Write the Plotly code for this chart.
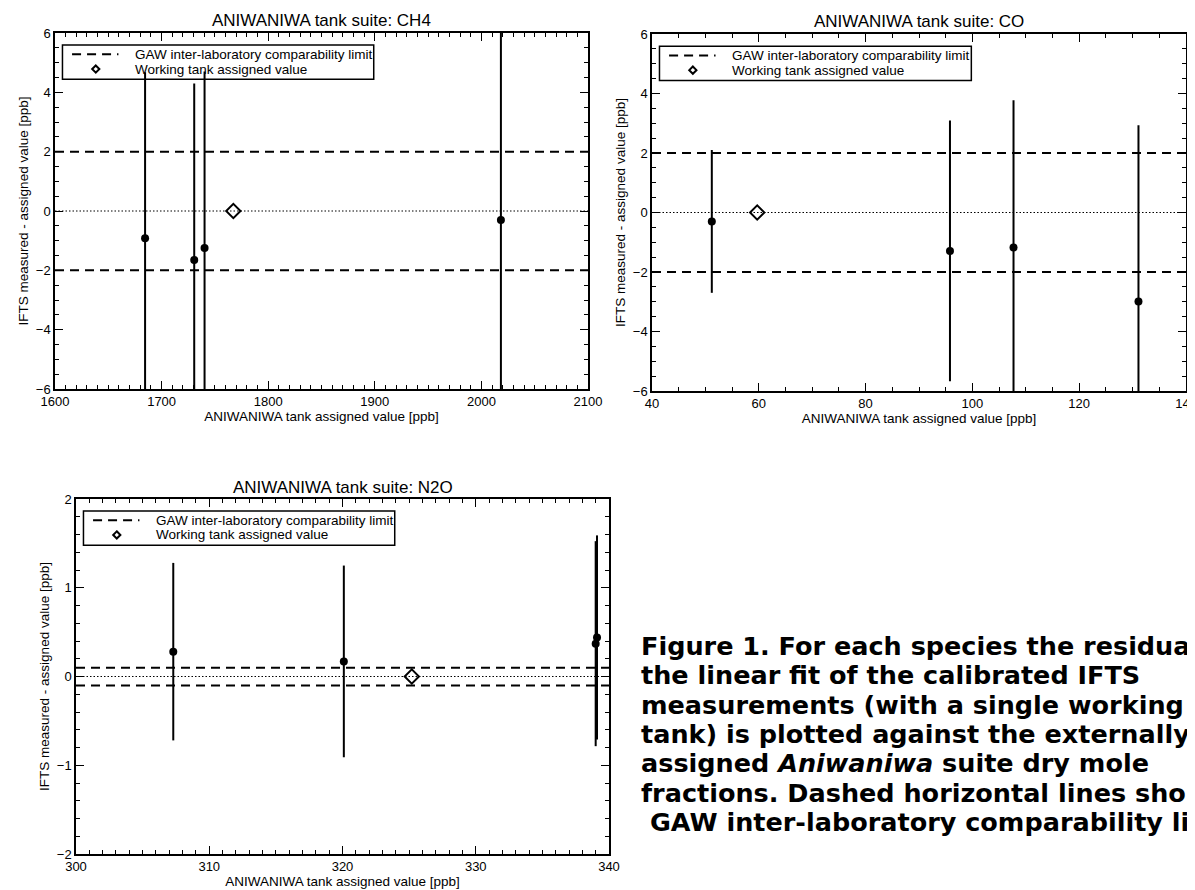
import plotly.graph_objects as go

W, H = 1195, 890

# ---------------- data ----------------
ch4_x = [1684.5, 1730.6, 1740.3, 2018.3]
ch4_y = [-0.92, -1.65, -1.25, -0.30]
ch4_err = [5.6, 5.95, 5.95, 7.0]
ch4_work = [1767.3]
ch4_limit = 2.0
ch4_xrange = [1600, 2100]
ch4_yrange = [-6, 6]

co_x = [51.2, 95.8, 107.7, 131.1]
co_y = [-0.30, -1.29, -1.18, -2.99]
co_err = [2.40, 4.38, 4.95, 5.92]
co_work = [59.7]
co_limit = 2.0
co_xrange = [40, 140]
co_yrange = [-6, 6]

n2o_x = [307.3, 320.1, 339.0, 339.1]
n2o_y = [0.28, 0.17, 0.37, 0.44]
n2o_err = [1.0, 1.08, 1.155, 1.15]
n2o_work = [325.2]
n2o_limit = 0.1
n2o_xrange = [300, 340]
n2o_yrange = [-2, 2]

titles = ["ANIWANIWA tank suite: CH4", "ANIWANIWA tank suite: CO", "ANIWANIWA tank suite: N2O"]
x_title = "ANIWANIWA tank assigned value [ppb]"
y_title = "IFTS measured - assigned value [ppb]"
legend_names = ["GAW inter-laboratory comparability limit", "Working tank assigned value"]

# caption as visible in the reference (it is clipped by the page edge there)
caption_lines = [
    "Figure 1. For each species the residua",
    "the linear fit of the calibrated IFTS",
    "measurements (with a single working",
    "tank) is plotted against the externally",
    "assigned <i>Aniwaniwa</i> suite dry mole",
    "fractions. Dashed horizontal lines sho",
    " GAW inter-laboratory comparability li",
]

# ---------------- layout geometry (pixels) ----------------
panels = [
    dict(x=ch4_x, y=ch4_y, err=ch4_err, work=ch4_work, lim=ch4_limit, xr=ch4_xrange, yr=ch4_yrange,
         px=(47, 580), py=(25, 381), xd=100, xm=10, yd=2, ym=0.5),
    dict(x=co_x, y=co_y, err=co_err, work=co_work, lim=co_limit, xr=co_xrange, yr=co_yrange,
         px=(644, 1178), py=(26, 383), xd=20, xm=5, yd=2, ym=0.5),
    dict(x=n2o_x, y=n2o_y, err=n2o_err, work=n2o_work, lim=n2o_limit, xr=n2o_xrange, yr=n2o_yrange,
         px=(68, 601), py=(491, 846), xd=10, xm=1, yd=1, ym=0.2),
]

FONT = "Liberation Sans"
DASH = "9px,6px"
fig = go.Figure()
layout = dict(
    width=W, height=H, margin=dict(l=0, r=0, t=0, b=0, pad=0),
    paper_bgcolor="white", plot_bgcolor="white",
    font=dict(family=FONT, size=13, color="black"),
    showlegend=False, shapes=[], annotations=[],
)


def px2paper(xp, yp):
    return xp / W, 1 - yp / H


for i, p in enumerate(panels):
    n = "" if i == 0 else str(i + 1)
    xa, ya = "x" + n, "y" + n
    x0p, x1p = p["px"][0] / W, p["px"][1] / W
    y0p, y1p = 1 - p["py"][1] / H, 1 - p["py"][0] / H

    # comparability limit lines
    fig.add_trace(go.Scatter(
        x=[p["xr"][0], p["xr"][1], None, p["xr"][0], p["xr"][1]],
        y=[p["lim"], p["lim"], None, -p["lim"], -p["lim"]],
        mode="lines", line=dict(color="black", width=2, dash=DASH),
        name=legend_names[0], xaxis=xa, yaxis=ya, hoverinfo="skip"))
    # working tank
    fig.add_trace(go.Scatter(
        x=p["work"], y=[0] * len(p["work"]), mode="markers",
        marker=dict(symbol="diamond-open", size=11, color="black", line=dict(width=2, color="black")),
        name=legend_names[1], xaxis=xa, yaxis=ya))
    # residuals
    fig.add_trace(go.Scatter(
        x=p["x"], y=p["y"], mode="markers",
        marker=dict(symbol="circle", size=8, color="black"),
        error_y=dict(type="data", array=p["err"], visible=True, color="black", thickness=2, width=0),
        name="residual", xaxis=xa, yaxis=ya))

    axis_common = dict(
        showline=True, linecolor="black", linewidth=1.5, mirror="ticks",
        ticks="inside", ticklen=8, tickwidth=1, tickcolor="black",
        showgrid=False, zeroline=False, tickfont=dict(family=FONT, size=13, color="black"),
        title_font=dict(family=FONT, size=13.5, color="black"), automargin=False,
    )
    layout["xaxis" + n] = dict(
        axis_common, domain=[x0p, x1p], range=p["xr"], tickmode="linear", tick0=p["xr"][0], dtick=p["xd"],
        minor=dict(ticks="inside", ticklen=4, tickwidth=1, tickcolor="black", dtick=p["xm"], showgrid=False),
        anchor=ya, title=dict(text=x_title, standoff=0))
    layout["yaxis" + n] = dict(
        axis_common, domain=[y0p, y1p], range=p["yr"], tickmode="linear", tick0=p["yr"][0], dtick=p["yd"],
        minor=dict(ticks="inside", ticklen=4, tickwidth=1, tickcolor="black", dtick=p["ym"], showgrid=False),
        anchor=xa, title=dict(text=y_title, standoff=4))

    # zero reference line (dotted)
    layout["shapes"].append(dict(
        type="line", xref=xa + " domain", yref=ya, x0=0, x1=1, y0=0, y1=0,
        line=dict(color="black", width=1, dash="1.5px,2px")))

    # panel title
    tpos = px2paper((p["px"][0] + p["px"][1]) / 2, p["py"][0] - 12)
    layout["annotations"].append(dict(
        text=titles[i], xref="paper", yref="paper", x=tpos[0], y=tpos[1],
        xanchor="center", yanchor="middle", showarrow=False,
        font=dict(family=FONT, size=17, color="black")))

    # ---- legend box (drawn inside the plot, like the IDL legend) ----
    pw = p["px"][1] - p["px"][0]
    ph = p["py"][1] - p["py"][0]
    bx0 = p["px"][0] + 0.014 * pw
    bx1 = p["px"][0] + 0.598 * pw
    by0 = p["py"][0] + 0.034 * ph
    by1 = p["py"][0] + 0.130 * ph
    r0 = px2paper(bx0, by0)
    r1 = px2paper(bx1, by1)
    layout["shapes"].append(dict(type="rect", xref="paper", yref="paper",
                                 x0=r0[0], y0=r1[1], x1=r1[0], y1=r0[1],
                                 line=dict(color="black", width=1.5), fillcolor="rgba(0,0,0,0)"))
    row1 = by0 + 0.27 * (by1 - by0)
    row2 = by0 + 0.70 * (by1 - by0)
    s0 = px2paper(p["px"][0] + 0.032 * pw, row1)
    s1 = px2paper(p["px"][0] + 0.119 * pw, row1)
    layout["shapes"].append(dict(type="line", xref="paper", yref="paper",
                                 x0=s0[0], y0=s0[1], x1=s1[0], y1=s1[1],
                                 line=dict(color="black", width=2, dash=DASH)))
    cx, cy = p["px"][0] + 0.0765 * pw, row2
    d = 3.6
    pts = [px2paper(cx, cy - d), px2paper(cx + d, cy), px2paper(cx, cy + d), px2paper(cx - d, cy)]
    path = "M {} {} L {} {} L {} {} L {} {} Z".format(*[c for pt in pts for c in pt])
    layout["shapes"].append(dict(type="path", xref="paper", yref="paper", path=path,
                                 line=dict(color="black", width=2), fillcolor="rgba(0,0,0,0)"))
    tx = p["px"][0] + 0.146 * pw
    for name, ry in zip(legend_names, (row1, row2)):
        tp = px2paper(tx, ry)
        layout["annotations"].append(dict(
            text=name, xref="paper", yref="paper", x=tp[0], y=tp[1],
            xanchor="left", yanchor="middle", showarrow=False,
            font=dict(family=FONT, size=13.5, color="black")))

# caption
for k, line in enumerate(caption_lines):
    cp = px2paper(631, 638 + 29.3 * k)
    layout["annotations"].append(dict(
        text="<b>" + line + "</b>", xref="paper", yref="paper",
        x=cp[0], y=cp[1], xanchor="left", yanchor="middle",
        showarrow=False, font=dict(family="DejaVu Sans", size=25.5, color="black")))

fig.update_layout(**layout)
fig.write_html("out.html")
